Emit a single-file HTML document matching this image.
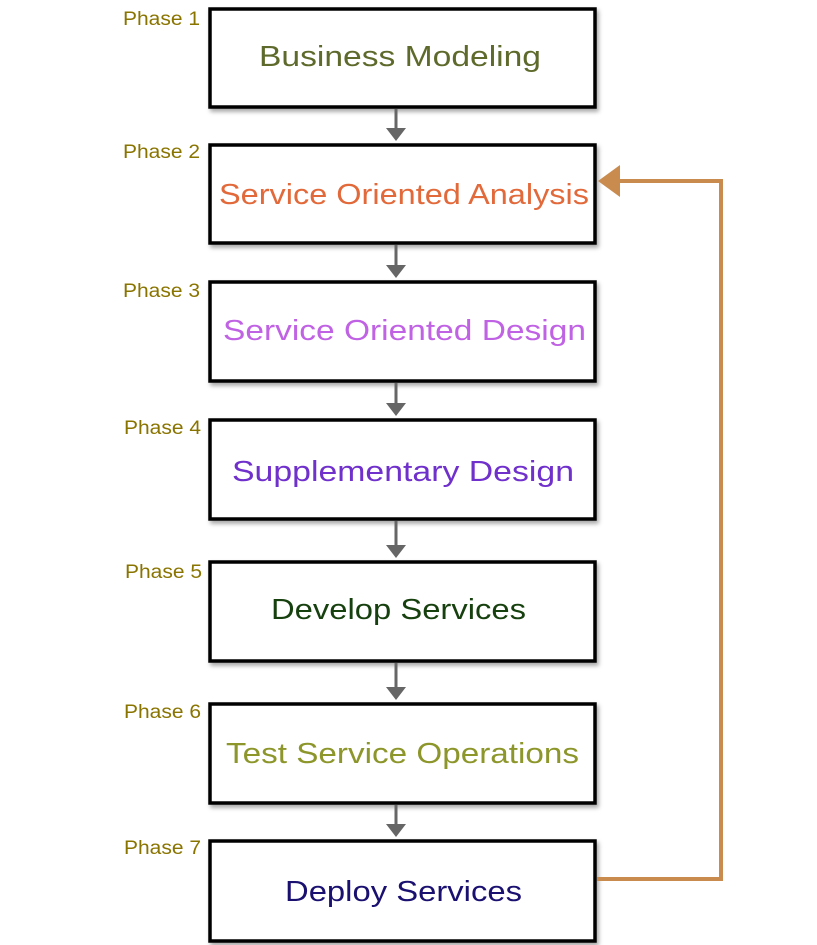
<!DOCTYPE html>
<html><head><meta charset="utf-8"><style>html,body{margin:0;padding:0;background:#fff}svg{display:block}</style></head>
<body>
<svg width="817" height="945" viewBox="0 0 817 945" xmlns="http://www.w3.org/2000/svg" font-family="Liberation Sans, sans-serif">
<defs>
<filter id="sh" x="-5%" y="-5%" width="110%" height="120%"><feDropShadow dx="2" dy="3" stdDeviation="2" flood-color="#000" flood-opacity="0.35"/></filter>
</defs>
<g fill="#fff" stroke="#000" stroke-width="3.5" filter="url(#sh)">
<rect x="210" y="9" width="385" height="98"/>
<rect x="210" y="145" width="385" height="98"/>
<rect x="210" y="282" width="385" height="99"/>
<rect x="210" y="420" width="385" height="99"/>
<rect x="210" y="562" width="385" height="99"/>
<rect x="210" y="704" width="385" height="99"/>
<rect x="210" y="841" width="385" height="100"/>
</g>
<g stroke="#666" stroke-width="3">
<line x1="396" y1="109" x2="396" y2="130"/>
<line x1="396" y1="245" x2="396" y2="267"/>
<line x1="396" y1="383" x2="396" y2="405"/>
<line x1="396" y1="521" x2="396" y2="547"/>
<line x1="396" y1="663" x2="396" y2="689"/>
<line x1="396" y1="805" x2="396" y2="826"/>
</g>
<g fill="#666">
<polygon points="386,128 406,128 396,141"/>
<polygon points="386,265 406,265 396,278"/>
<polygon points="386,403 406,403 396,416"/>
<polygon points="386,545 406,545 396,558"/>
<polygon points="386,687 406,687 396,700"/>
<polygon points="386,824 406,824 396,837"/>
</g>
<polyline points="597,879 721,879 721,181 615,181" fill="none" stroke="#C98B4E" stroke-width="4"/>
<polygon points="598,181 620,165 620,197" fill="#C98B4E"/>
<g font-size="19" fill="#8a7400">
<text x="123" y="25" textLength="77" lengthAdjust="spacingAndGlyphs">Phase 1</text>
<text x="123" y="158" textLength="77" lengthAdjust="spacingAndGlyphs">Phase 2</text>
<text x="123" y="297" textLength="77" lengthAdjust="spacingAndGlyphs">Phase 3</text>
<text x="124" y="434" textLength="77" lengthAdjust="spacingAndGlyphs">Phase 4</text>
<text x="125" y="578" textLength="77" lengthAdjust="spacingAndGlyphs">Phase 5</text>
<text x="124" y="718" textLength="77" lengthAdjust="spacingAndGlyphs">Phase 6</text>
<text x="124" y="854" textLength="77" lengthAdjust="spacingAndGlyphs">Phase 7</text>
</g>
<g font-size="29" lengthAdjust="spacingAndGlyphs">
<text x="259" y="66" textLength="282" lengthAdjust="spacingAndGlyphs" fill="#5e6a2c">Business Modeling</text>
<text x="219" y="204" textLength="370" lengthAdjust="spacingAndGlyphs" fill="#e2693a">Service Oriented Analysis</text>
<text x="223" y="340" textLength="363" lengthAdjust="spacingAndGlyphs" fill="#c062e4">Service Oriented Design</text>
<text x="232" y="481" textLength="342" lengthAdjust="spacingAndGlyphs" fill="#7030cc">Supplementary Design</text>
<text x="271" y="619" textLength="255" lengthAdjust="spacingAndGlyphs" fill="#17400f">Develop Services</text>
<text x="226" y="763" textLength="353" lengthAdjust="spacingAndGlyphs" fill="#8c962a">Test Service Operations</text>
<text x="285" y="901" textLength="237" lengthAdjust="spacingAndGlyphs" fill="#1a1070">Deploy Services</text>
</g>
</svg>
</body></html>
